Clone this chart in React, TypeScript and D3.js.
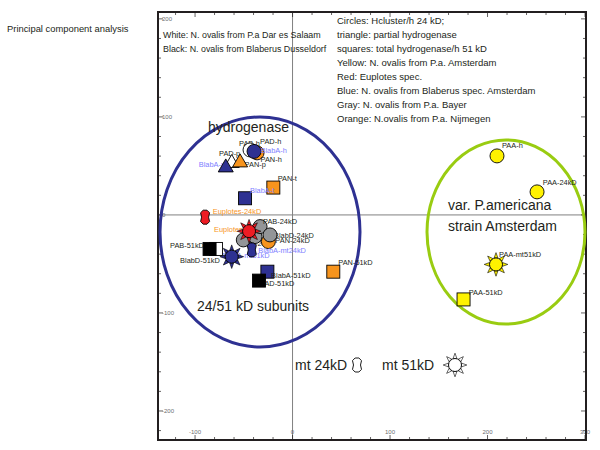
import React from "react";
import * as d3 from "d3";

const W = 600;
const H = 450;
const FONT = "'Liberation Sans', Arial, sans-serif";

// axis ticks (labelled) and minor ticks
const xTicks = [-100, 0, 100, 200, 300];
const yTicks = [-200, -100, 0, 100, 200];
const xMinor = d3.range(-120, 301, 20);
const yMinor = d3.range(-220, 201, 20);

const title = "Principal component analysis";
const sourceLines = [
  "White: N. ovalis from P.a Dar es Salaam",
  "Black: N. ovalis from Blaberus Dusseldorf",
];
const legendLines = [
  "Circles: Hcluster/h 24 kD;",
  "triangle: partial hydrogenase",
  "squares: total hydrogenase/h 51 kD",
  "Yellow:  N. ovalis  from P.a.  Amsterdam",
  "Red:  Euplotes spec.",
  "Blue:  N. ovalis  from Blaberus spec. Amsterdam",
  "Gray:  N. ovalis  from P.a.  Bayer",
  "Orange: N.ovalis from P.a.  Nijmegen",
];

// marks, in drawing order
const markIds = [
  "PAN-h", "PAB-h", "BlabA-h",
  "PAD-p", "BlabA-p", "PAN-p",
  "PAN-t", "BlabA-t",
  "Eu-24", "PAN-24", "G1", "G2", "G3", "G4", "Eu-51",
  "BlabA-mt24", "BlabA-mt51",
  "PAB-51", "BlabD-51", "BlabA-51", "PAD-51", "PAN-51",
  "PAA-h", "PAA-24", "PAA-mt51", "PAA-51",
];
const markShapes = [
  "circle", "circle", "circle",
  "triangle", "triangle", "triangle",
  "square", "square",
  "mt24", "circle", "circle", "circle", "circle", "circle", "sun",
  "mt24", "sun",
  "square", "square", "square", "square", "square",
  "circle", "circle", "sun", "square",
];
const markGroups = [
  "orange", "white", "blue",
  "white", "blue", "orange",
  "orange", "blue",
  "red", "orange", "gray", "gray", "gray", "gray", "red",
  "blue", "blue",
  "white", "black", "blue", "black", "orange",
  "yellow", "yellow", "yellow", "yellow",
];
const pc1 = [
  -36.4, -43.6, -39.5,
  -62.4, -68.5, -53.8,
  -19.7, -48.7,
  -89.7, -24.8, -50.5, -38.5, -33.3, -23.1, -44.6,
  -41.8, -62.4,
  -78.5, -85.1, -25.8, -34.4, 41.8,
  209.7, 250.8, 208.7, 175.4,
];
const pc2 = [
  63.3, 66.3, 64.8,
  52.8, 48.3, 53.4,
  27.9, 17.0,
  -2.3, -27.2, -25.5, -22.1, -11.9, -20.4, -16.6,
  -35.7, -42.6,
  -34.7, -34.7, -57.9, -67.0, -57.9,
  60.2, 23.5, -50.5, -86.2,
];

// point labels and the mark each belongs to
const labelTexts = [
  "PAB-h", "PAD-h", "BlabA-h", "PAN-h",
  "PAD-p", "BlabA-p", "PAN-p",
  "PAN-t", "BlabA-t",
  "Euplotes-24kD", "Euplotes-51kD", "PAB-24kD", "BlabD-24kD", "PAN-24kD", "PAD-24kD",
  "BlabA-mt24kD", "BlabA-mt51kD",
  "BlabD-51kD", "PAB-51kD", "BlabA-51kD", "PAD-51kD", "PAN-51kD",
  "PAA-h", "PAA-24kD", "PAA-mt51kD", "PAA-51kD",
];
const labelMarks = [
  "PAB-h", "PAB-h", "BlabA-h", "PAN-h",
  "PAD-p", "BlabA-p", "PAN-p",
  "PAN-t", "BlabA-t",
  "Eu-24", "Eu-51", "G3", "G4", "PAN-24", "G1",
  "BlabA-mt24", "BlabA-mt51",
  "BlabD-51", "PAB-51", "BlabA-51", "PAD-51", "PAN-51",
  "PAA-h", "PAA-24", "PAA-mt51", "PAA-51",
];

// label placement: px offset from its mark, and whether marks cover it
const labelOffsets: Record<string, [number, number, boolean]> = {
  "PAB-h": [-11, -6.5, true],
  "PAD-h": [10, -9, false],
  "BlabA-h": [6.5, -0.5, false],
  "PAN-h": [3.5, 7, false],
  "PAD-p": [-12.7, -9.5, true],
  "BlabA-p": [-27, -3.4, true],
  "PAN-p": [4.5, 2.3, true],
  "PAN-t": [4.4, -9, false],
  "BlabA-t": [5, -7.6, false],
  "Euplotes-24kD": [7.7, -5.6, false],
  "Euplotes-51kD": [-35, -1.3, true],
  "PAB-24kD": [3, -5, false],
  "BlabD-24kD": [4, 0, true],
  "PAN-24kD": [7, -1, false],
  "PAD-24kD": [-3, 3, true],
  "BlabA-mt24kD": [6.5, 0, false],
  "BlabA-mt51kD": [-9.7, -1.7, true],
  "BlabD-51kD": [-29.5, 11, false],
  "PAB-51kD": [-46, -4, true],
  "BlabA-51kD": [3.7, 3.3, false],
  "PAD-51kD": [1, 2.6, true],
  "PAN-51kD": [5, -9.4, false],
  "PAA-h": [5, -10, false],
  "PAA-24kD": [5.7, -9, false],
  "PAA-mt51kD": [3, -10, false],
  "PAA-51kD": [5.2, -7.3, false],
};

const fills: Record<string, string> = {
  orange: "#f7941d",
  white: "#ffffff",
  blue: "#2e3192",
  gray: "#939598",
  red: "#ed1c24",
  black: "#000000",
  yellow: "#fff200",
};

function labelColour(t: string) {
  if (t.startsWith("Euplotes")) return "#f7941d";
  if (t.startsWith("BlabA") && t !== "BlabA-51kD") return "#8080ff";
  return "#231f20";
}

function sunPath(r: number, R: number) {
  let p = "";
  for (let i = 0; i < 8; i++) {
    const a = (i * Math.PI) / 4 - Math.PI / 2;
    const w = 0.28;
    const p1 = [Math.cos(a - w) * r, Math.sin(a - w) * r];
    const p2 = [Math.cos(a) * R, Math.sin(a) * R];
    const p3 = [Math.cos(a + w) * r, Math.sin(a + w) * r];
    p += `M${p1[0]},${p1[1]}L${p2[0]},${p2[1]}L${p3[0]},${p3[1]}Z`;
  }
  return p;
}

function mt24Path(w: number, h: number) {
  const c = 2.6;
  const x = w / 2;
  const y = h / 2;
  return `M${-x + c},${-y}L${x - c},${-y}L${x},${-y + c}L${x - 1},0L${x},${y - c}L${x - c},${y}L${-x + c},${y}L${-x},${y - c}L${-x + 1},0L${-x},${-y + c}Z`;
}

function Mark({ shape, fill, cx, cy }: { shape: string; fill: string; cx: number; cy: number }) {
  const st = { stroke: "#000", strokeWidth: 0.9 };
  if (shape === "circle") return <circle cx={cx} cy={cy} r={7} fill={fill} {...st} />;
  if (shape === "square") return <rect x={cx - 6.5} y={cy - 6.5} width={13} height={13} fill={fill} {...st} />;
  if (shape === "triangle") {
    const s = 15;
    const h = (s * Math.sqrt(3)) / 2;
    return (
      <path
        d={`M${cx},${cy - (2 * h) / 3}L${cx + s / 2},${cy + h / 3}L${cx - s / 2},${cy + h / 3}Z`}
        fill={fill}
        {...st}
      />
    );
  }
  if (shape === "sun")
    return (
      <g transform={`translate(${cx},${cy})`}>
        <path d={sunPath(6.8, 11.8)} fill={fill} {...st} strokeWidth={0.6} />
        <circle r={6.5} fill={fill} {...st} />
      </g>
    );
  return <path transform={`translate(${cx},${cy})`} d={mt24Path(9, 14)} fill={fill} {...st} />;
}

export default function App() {
  const left = 158, right = 586, top = 12, bottom = 440;
  const x = d3.scaleLinear().domain([-138, 301]).range([left, right]);
  const y = d3.scaleLinear().domain([207, -229.6]).range([top, bottom]);

  const pos: Record<string, [number, number]> = {};
  markIds.forEach((id, i) => (pos[id] = [x(pc1[i]), y(pc2[i])]));

  const labels = labelTexts.map((t, i) => {
    const [mx, my] = pos[labelMarks[i]];
    const [dx, dy, under] = labelOffsets[t];
    return { t, x: mx + dx, y: my + dy, under };
  });
  const renderLabel = (l: { t: string; x: number; y: number }) => (
    <text key={l.t} x={l.x} y={l.y} dy="0.35em" fontSize={7.4} fill={labelColour(l.t)}>
      {l.t}
    </text>
  );

  return (
    <svg width={W} height={H} style={{ position: "absolute", left: 0, top: 0, background: "#fff" }} fontFamily={FONT}>
      <text x={7} y={29} dy="0.35em" fontSize={9.4} fill="#231f20">{title}</text>

      {/* zero lines */}
      <line x1={x(0)} x2={x(0)} y1={top} y2={bottom} stroke="#808080" strokeWidth={1} />
      <line x1={left} x2={right} y1={y(0)} y2={y(0)} stroke="#808080" strokeWidth={1} />

      {/* ticks on all four sides, pointing inward */}
      <g stroke="#231f20" strokeWidth={0.7}>
        {xMinor.map((v) => {
          const len = v % 100 === 0 ? 5 : 3;
          return (
            <g key={"x" + v}>
              <line x1={x(v)} x2={x(v)} y1={bottom} y2={bottom - len} />
              <line x1={x(v)} x2={x(v)} y1={top} y2={top + len} />
            </g>
          );
        })}
        {yMinor.map((v) => {
          const len = v % 100 === 0 ? 5 : 3;
          return (
            <g key={"y" + v}>
              <line x1={left} x2={left + len} y1={y(v)} y2={y(v)} />
              <line x1={right} x2={right - len} y1={y(v)} y2={y(v)} />
            </g>
          );
        })}
      </g>
      <g fontSize={6} fill="#6d6e71">
        {xTicks.map((v) => (
          <text key={"xl" + v} x={x(v)} y={bottom - 6} textAnchor="middle">{v}</text>
        ))}
        {yTicks.map((v) => (
          <text key={"yl" + v} x={left + 4} y={y(v)} dy="0.35em">{v}</text>
        ))}
      </g>

      {/* frame */}
      <rect x={left} y={top} width={right - left} height={bottom - top} fill="none" stroke="#231f20" strokeWidth={2} />

      {/* notes */}
      <g fill="#231f20" style={{ whiteSpace: "pre" }}>
        {sourceLines.map((s, i) => (
          <text key={s} x={163} y={35 + i * 14} dy="0.35em" fontSize={8.9}>{s}</text>
        ))}
        {legendLines.map((s, i) => (
          <text key={s} x={337} y={21 + i * 14} dy="0.35em" fontSize={9.5}>{s}</text>
        ))}
      </g>

      {/* cluster ellipses */}
      <ellipse cx={260} cy={232} rx={100} ry={115} fill="none" stroke="#2e3192" strokeWidth={3} />
      <ellipse cx={506} cy={232} rx={79} ry={92} fill="none" stroke="#99cc11" strokeWidth={3} />

      <g fontSize={14} fill="#231f20">
        <text x={208} y={127} dy="0.35em">hydrogenase</text>
        <text x={197} y={306} dy="0.35em">24/51 kD subunits</text>
        <text x={448} y={205} dy="0.35em">var. P.americana</text>
        <text x={448} y={226} dy="0.35em">strain Amsterdam</text>
        <text x={295} y={365} dy="0.35em">mt 24kD</text>
        <text x={382} y={365} dy="0.35em">mt 51kD</text>
      </g>
      <Mark shape="mt24" fill="#fff" cx={357} cy={365} />
      <Mark shape="sun" fill="#fff" cx={455} cy={365} />

      {labels.filter((l) => l.under).map(renderLabel)}
      {markIds.map((id, i) => (
        <Mark key={id} shape={markShapes[i]} fill={fills[markGroups[i]]} cx={pos[id][0]} cy={pos[id][1]} />
      ))}
      {labels.filter((l) => !l.under).map(renderLabel)}
    </svg>
  );
}
